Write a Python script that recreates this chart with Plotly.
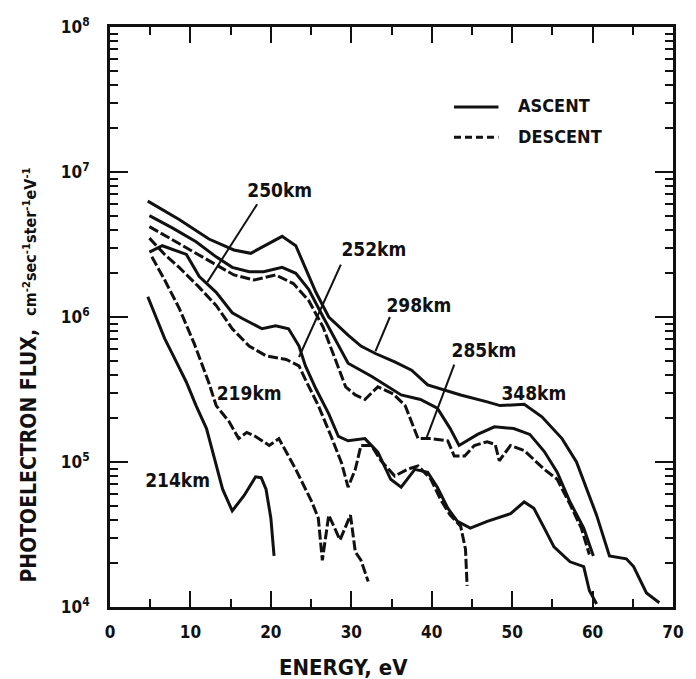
import plotly.graph_objects as go

# ---- photoelectron flux spectra (energy in eV, flux in cm^-2 s^-1 sr^-1 eV^-1) ----
e_348 = [4.7, 8.6, 12.3, 15.4, 17.5, 19.8, 21.4, 23.1, 24.3, 25.6, 27.2, 29.6, 31.2, 33.0, 35.4,
         37.5, 39.5, 42.0, 43.6, 46.9, 48.5, 51.5, 53.7, 56.2, 58.0, 60.5, 62.1, 64.2, 65.1, 66.7, 68.3]
f_348 = [6.3e6, 4.7e6, 3.45e6, 2.9e6, 2.75e6, 3.2e6, 3.6e6, 3.1e6, 2.15e6, 1.48e6, 1.0e6, 7.5e5,
         6.3e5, 5.6e5, 4.9e5, 4.3e5, 3.4e5, 3.1e5, 2.9e5, 2.6e5, 2.45e5, 2.5e5, 2.05e5, 1.45e5,
         1.0e5, 4.3e4, 2.25e4, 2.15e4, 1.9e4, 1.25e4, 1.07e4]

e_298 = [4.9, 7.8, 10.7, 13.2, 15.2, 17.3, 19.1, 21.4, 23.1, 24.7, 26.5, 28.0, 29.6, 32.5, 36.2,
         38.6, 40.7, 42.3, 43.4, 45.7, 47.8, 50.2, 52.2, 54.0, 55.6, 57.2, 58.9, 60.1]
f_298 = [5.0e6, 4.1e6, 3.3e6, 2.6e6, 2.2e6, 2.05e6, 2.05e6, 2.2e6, 2.0e6, 1.55e6, 1.0e6, 7.0e5,
         4.8e5, 3.9e5, 2.9e5, 2.7e5, 2.35e5, 1.7e5, 1.3e5, 1.55e5, 1.75e5, 1.7e5, 1.55e5, 1.18e5,
         8.5e4, 5.3e4, 3.5e4, 2.25e4]

e_285 = [4.9, 8.6, 12.3, 15.4, 17.9, 20.6, 22.8, 24.7, 26.5, 28.4, 29.3, 30.5, 31.7, 33.3, 35.2,
         36.7, 38.3, 39.9, 42.0, 42.8, 44.1, 45.3, 46.9, 47.9, 48.4, 49.8, 51.5, 54.0, 55.6, 57.2,
         58.6, 59.6]
f_285 = [4.2e6, 3.2e6, 2.45e6, 1.95e6, 1.8e6, 1.95e6, 1.7e6, 1.3e6, 8.5e5, 4.4e5, 3.3e5, 2.9e5,
         2.7e5, 3.3e5, 2.95e5, 2.45e5, 1.45e5, 1.45e5, 1.4e5, 1.1e5, 1.1e5, 1.3e5, 1.38e5, 1.32e5,
         1.02e5, 1.3e5, 1.2e5, 8.9e4, 7.6e4, 5.1e4, 3.5e4, 2.3e4]

e_250 = [4.9, 6.5, 9.5, 11.1, 13.2, 15.2, 16.4, 18.9, 20.6, 22.2, 23.5, 24.3, 25.6, 27.2, 28.4,
         29.6, 31.7, 33.3, 34.9, 36.2, 37.9, 39.5, 40.7, 42.0, 43.2, 44.8, 46.9, 49.8, 51.5, 52.7,
         54.0, 55.2, 57.2, 58.9, 59.6, 60.5]
f_250 = [2.8e6, 3.1e6, 2.7e6, 1.9e6, 1.48e6, 1.07e6, 9.8e5, 8.3e5, 8.7e5, 8.3e5, 6.3e5, 4.6e5,
         3.2e5, 2.15e5, 1.5e5, 1.4e5, 1.45e5, 1.17e5, 7.6e4, 6.7e4, 8.9e4, 8.5e4, 6.7e4, 4.8e4,
         3.9e4, 3.5e4, 3.9e4, 4.4e4, 5.3e4, 4.8e4, 3.5e4, 2.6e4, 2.05e4, 1.9e4, 1.3e4, 1.05e4]

e_252 = [4.9, 6.8, 8.6, 11.1, 13.2, 15.2, 17.3, 19.4, 21.9, 23.5, 24.3, 25.9, 27.5, 28.8, 29.6,
         30.5, 31.2, 32.5, 33.7, 35.4, 37.0, 38.3, 39.9, 41.1, 42.3, 43.6, 44.2, 44.4]
f_252 = [3.5e6, 2.7e6, 2.2e6, 1.6e6, 1.2e6, 8.3e5, 6.3e5, 5.4e5, 5.1e5, 4.6e5, 3.7e5, 2.45e5,
         1.5e5, 9.8e4, 6.7e4, 8.9e4, 1.3e5, 1.3e5, 1.02e5, 8.0e4, 8.9e4, 9.4e4, 7.6e4, 5.5e4,
         4.3e4, 3.6e4, 2.5e4, 1.4e4]

e_219 = [5.2, 6.8, 8.6, 10.5, 12.3, 13.2, 14.8, 16.0, 17.0, 18.1, 19.8, 21.0, 23.1, 25.1, 25.9,
         26.4, 27.2, 28.6, 29.9, 30.5, 31.2, 32.1]
f_219 = [2.6e6, 1.8e6, 1.15e6, 6.5e5, 3.5e5, 2.45e5, 1.9e5, 1.45e5, 1.6e5, 1.5e5, 1.3e5, 1.45e5,
         8.9e4, 5.3e4, 4.1e4, 2.1e4, 4.3e4, 2.9e4, 4.3e4, 2.4e4, 2.1e4, 1.5e4]

e_214 = [4.7, 5.8, 6.8, 7.8, 9.5, 10.7, 12.0, 13.0, 14.0, 15.2, 16.7, 18.1, 18.8, 19.4, 20.0, 20.4]
f_214 = [1.38e6, 9.8e5, 7.1e5, 5.5e5, 3.55e5, 2.45e5, 1.7e5, 1.05e5, 6.5e4, 4.6e4, 5.9e4, 7.9e4,
         7.8e4, 6.5e4, 4.1e4, 2.25e4]

# altitude labels and their leader lines
label_text = ["250km", "252km", "298km", "285km", "348km", "219km", "214km"]
label_e = [21.1, 32.8, 38.4, 46.5, 52.7, 17.3, 8.4]
label_f = [7.3e6, 2.85e6, 1.17e6, 5.7e5, 2.9e5, 2.9e5, 7.3e4]
leader_e = [[18.3, 12.1], [28.7, 23.5], [34.8, 33.0], [42.8, 39.3]]
leader_f = [[6.0e6, 1.74e6], [2.3e6, 5.3e5], [1.0e6, 5.8e5], [4.7e5, 1.44e5]]

# axis ticks
x_ticks = [0, 10, 20, 30, 40, 50, 60, 70]
y_ticks = [1e4, 1e5, 1e6, 1e7, 1e8]
y_ticktext = ["10<sup>4</sup>", "10<sup>5</sup>", "10<sup>6</sup>", "10<sup>7</sup>", "10<sup>8</sup>"]
y_minor = [m * 10 ** d for d in range(4, 8) for m in range(2, 10)]

FONT = "DejaVu Sans Condensed, DejaVu Sans, sans-serif"
INK = "#111111"
DASH = "10px,3px"

curves = [
    (e_348, f_348, "solid"),
    (e_298, f_298, "solid"),
    (e_285, f_285, DASH),
    (e_250, f_250, "solid"),
    (e_252, f_252, DASH),
    (e_219, f_219, DASH),
    (e_214, f_214, "solid"),
]

fig = go.Figure()
for ex, fx, dash in curves:
    fig.add_trace(go.Scatter(x=ex, y=fx, mode="lines",
                             line=dict(color=INK, width=3, dash=dash),
                             showlegend=False, hoverinfo="skip"))

for le, lf in zip(leader_e, leader_f):
    fig.add_trace(go.Scatter(x=le, y=lf, mode="lines",
                             line=dict(color=INK, width=2),
                             showlegend=False, hoverinfo="skip"))

fig.add_trace(go.Scatter(x=label_e, y=label_f, mode="text", text=label_text,
                         textfont=dict(family=FONT, size=19, color=INK, weight="bold"),
                         showlegend=False, hoverinfo="skip"))

# key for ascent / descent line styles
fig.add_shape(type="line", xref="paper", yref="paper", x0=0.611, x1=0.690, y0=0.862, y1=0.862,
              line=dict(color=INK, width=3))
fig.add_shape(type="line", xref="paper", yref="paper", x0=0.611, x1=0.690, y0=0.810, y1=0.810,
              line=dict(color=INK, width=3, dash="7px,4px"))
fig.add_annotation(xref="paper", yref="paper", x=0.722, y=0.864, xanchor="left", yanchor="middle",
                   text="ASCENT", showarrow=False,
                   font=dict(family=FONT, size=18, color=INK, weight="bold"))
fig.add_annotation(xref="paper", yref="paper", x=0.722, y=0.812, xanchor="left", yanchor="middle",
                   text="DESCENT", showarrow=False,
                   font=dict(family=FONT, size=18, color=INK, weight="bold"))

# axis titles
fig.add_annotation(xref="paper", yref="paper", x=-0.143, y=0.40, xanchor="center", yanchor="middle",
                   textangle=-90, showarrow=False,
                   text="PHOTOELECTRON FLUX,  <span style='font-size:16px'>cm<sup>-2</sup>sec<sup>-1</sup>"
                        "ster<sup>-1</sup>eV<sup>-1</sup></span>",
                   font=dict(family=FONT, size=21, color=INK, weight="bold"))
fig.add_annotation(xref="paper", yref="paper", x=0.415, y=-0.105, xanchor="center", yanchor="middle",
                   text="ENERGY, eV", showarrow=False,
                   font=dict(family=FONT, size=22, color=INK, weight="bold"))

fig.update_xaxes(range=[0, 70], tickvals=x_ticks, ticks="inside", ticklen=16, tickwidth=2,
                 tickcolor=INK, showline=True, linewidth=3, linecolor=INK, mirror="ticks",
                 showgrid=False, zeroline=False, ticklabelstandoff=8,
                 tickfont=dict(family=FONT, size=17, color=INK, weight="bold"),
                 minor=dict(dtick=5, ticks="inside", ticklen=8, tickwidth=2, tickcolor=INK, showgrid=False))
fig.update_yaxes(type="log", range=[4, 8], tickvals=y_ticks, ticktext=y_ticktext, ticks="inside",
                 ticklen=18, tickwidth=2, tickcolor=INK, showline=True, linewidth=3, linecolor=INK,
                 mirror="ticks", showgrid=False, zeroline=False, ticklabelstandoff=14,
                 tickfont=dict(family=FONT, size=17, color=INK, weight="bold"),
                 minor=dict(tickmode="array", tickvals=y_minor, ticks="inside", ticklen=8,
                            tickwidth=1.5, tickcolor=INK, showgrid=False))

fig.update_layout(width=696, height=679, margin=dict(l=110, r=18, t=27, b=72),
                  paper_bgcolor="white", plot_bgcolor="white", showlegend=False)

fig.write_html("out.html")
